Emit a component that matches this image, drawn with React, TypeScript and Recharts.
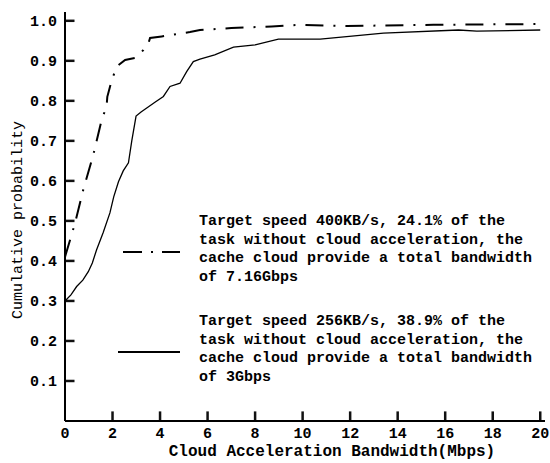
import { LineChart, Line, XAxis, YAxis, ReferenceLine } from "recharts";

// 400KB/s target (dash-dot)
const fastX = [0, 0.2, 0.42, 0.77, 1.19, 1.54, 1.75, 1.78, 1.97, 2.18, 2.53, 2.95, 3.3, 3.51, 3.58, 4.07, 5.26, 5.68, 7, 8.7, 9.9, 11.86, 15.5, 20];
const fastY = [0.41, 0.45, 0.494, 0.578, 0.665, 0.752, 0.786, 0.81, 0.852, 0.886, 0.902, 0.907, 0.927, 0.944, 0.957, 0.961, 0.972, 0.977, 0.982, 0.986, 0.99, 0.987, 0.99, 0.992];

// 256KB/s target (solid)
const slowX = [0, 0.25, 0.49, 0.75, 0.98, 1.15, 1.33, 1.6, 1.89, 2.05, 2.25, 2.45, 2.67, 2.81, 2.99, 3.2, 3.44, 3.8, 4.14, 4.42, 4.84, 5.12, 5.4, 5.68, 6.3, 7.09, 8, 8.98, 10.74, 13.4, 16.56, 17.33, 20];
const slowY = [0.3, 0.315, 0.336, 0.352, 0.373, 0.395, 0.428, 0.47, 0.52, 0.56, 0.598, 0.625, 0.645, 0.7, 0.762, 0.772, 0.782, 0.797, 0.811, 0.836, 0.844, 0.873, 0.898, 0.904, 0.915, 0.934, 0.94, 0.954, 0.954, 0.969, 0.977, 0.974, 0.977];

const xTicks = [0, 2, 4, 6, 8, 10, 12, 14, 16, 18, 20];
const yTicks = [0.1, 0.2, 0.3, 0.4, 0.5, 0.6, 0.7, 0.8, 0.9, 1.0];

const legendFast = [
  "Target speed 400KB/s, 24.1% of the",
  "task without cloud acceleration, the",
  "cache cloud provide a total bandwidth",
  "of 7.16Gbps",
];
const legendSlow = [
  "Target speed 256KB/s, 38.9% of the",
  "task without cloud acceleration, the",
  "cache cloud provide a total bandwidth",
  "of 3Gbps",
];

const fastData = fastX.map((x, i) => ({ x, y: fastY[i] }));
const slowData = slowX.map((x, i) => ({ x, y: slowY[i] }));

const FONT = '"Liberation Mono", monospace';
const tickStyle = { fontFamily: FONT, fontSize: 15, fontWeight: 700, fill: "#000" };
const axisLine = { stroke: "#000", strokeWidth: 2 };

function LegendBlock({ top, lines, dash, x1 }: { top: number; lines: string[]; dash?: string; x1: number }) {
  return (
    <>
      <svg style={{ position: "absolute", left: 0, top: top - 10, overflow: "visible" }} width={200} height={60}>
        <line x1={x1} x2={180} y1={40} y2={40} stroke="#000" strokeWidth={2} strokeDasharray={dash} />
      </svg>
      <div
        style={{
          position: "absolute",
          left: 199,
          top: top - 9,
          fontFamily: FONT,
          fontSize: 15,
          fontWeight: 700,
          lineHeight: "18.5px",
          whiteSpace: "pre",
          color: "#000",
        }}
      >
        {lines.join("\n")}
      </div>
    </>
  );
}

export default function App() {
  return (
    <div style={{ position: "absolute", left: 0, top: 0, width: 550, height: 463, background: "#fff" }}>
      <LineChart width={550} height={463} margin={{ top: 12, right: 5, bottom: 0, left: 0 }}>
        <XAxis
          type="number"
          dataKey="x"
          domain={[0, 20.2]}
          ticks={xTicks}
          height={42}
          tickSize={0}
          tickMargin={6}
          tick={tickStyle}
          axisLine={axisLine}
          label={{ value: "Cloud Acceleration Bandwidth(Mbps)", position: "insideBottom", offset: 7, dx: 27, style: { fontFamily: FONT, fontSize: 16, fontWeight: 700, fill: "#000" } }}
          allowDuplicatedCategory={false}
        />
        <YAxis
          type="number"
          dataKey="y"
          domain={[0, 1.022]}
          ticks={yTicks}
          width={65}
          tickSize={0}
          tickMargin={8}
          tick={tickStyle}
          tickFormatter={(v: number) => v.toFixed(1)}
          axisLine={axisLine}
          label={{
            content: () => (
              <text x={18} y={220} transform="rotate(-90, 18, 220)" textAnchor="middle" dominantBaseline="central" fontFamily={FONT} fontSize={15} fill="#000">
                Cumulative probability
              </text>
            ),
          }}
        />
        {/* inward tick marks, start just off the axis edge */}
        {xTicks.slice(1).map((v) => (
          <ReferenceLine key={`xt-${v}`} segment={[{ x: v, y: 0.001 }, { x: v, y: 0.024 }]} stroke="#111" strokeWidth={2.5} ifOverflow="visible" />
        ))}
        {yTicks.map((v) => (
          <ReferenceLine key={`yt-${v}`} segment={[{ x: 0.01, y: v }, { x: 0.4, y: v }]} stroke="#111" strokeWidth={2.5} ifOverflow="visible" />
        ))}
        <Line data={fastData} dataKey="y" type="linear" stroke="#000" strokeWidth={2} strokeDasharray="18 10 2 10" dot={false} isAnimationActive={false} />
        <Line data={slowData} dataKey="y" type="linear" stroke="#000" strokeWidth={1.3} dot={false} isAnimationActive={false} />
      </LineChart>
      <LegendBlock top={222} lines={legendFast} dash="19 9 2 9" x1={123} />
      <LegendBlock top={322} lines={legendSlow} x1={118} />
    </div>
  );
}
